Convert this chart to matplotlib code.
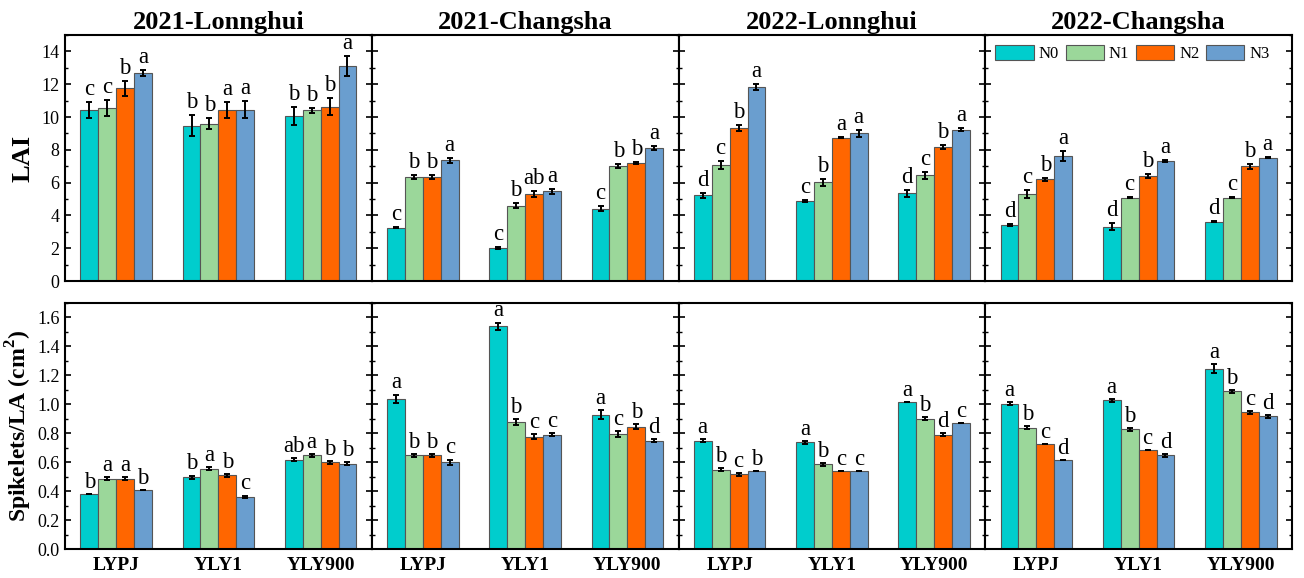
import numpy as np
import matplotlib.pyplot as plt
from matplotlib.ticker import MultipleLocator

plt.rcParams['font.family'] = ['Liberation Serif', 'DejaVu Serif']
plt.rcParams['mathtext.fontset'] = 'custom'
plt.rcParams['mathtext.rm'] = 'Liberation Serif:bold'
plt.rcParams['mathtext.bf'] = 'Liberation Serif:bold'

# data: rows = cultivars, columns = N0..N3
sites = ['2021-Lonnghui', '2021-Changsha', '2022-Lonnghui', '2022-Changsha']
cultivars = ['LYPJ', 'YLY1', 'YLY900']
treatments = ['N0', 'N1', 'N2', 'N3']
colors = ['#00CDCD', '#9BD79A', '#FF6600', '#6A9ECF']

lai_21_lh = [[10.43, 10.56, 11.76, 12.68], [9.48, 9.60, 10.43, 10.45], [10.05, 10.41, 10.64, 13.12]]
lai_21_cs = [[3.26, 6.34, 6.34, 7.36], [2.00, 4.60, 5.30, 5.46], [4.42, 7.01, 7.21, 8.13]]
lai_22_lh = [[5.22, 7.07, 9.33, 11.84], [4.89, 6.01, 8.74, 9.00], [5.34, 6.44, 8.19, 9.23]]
lai_22_cs = [[3.42, 5.30, 6.20, 7.60], [3.32, 5.09, 6.40, 7.32], [3.61, 5.09, 6.99, 7.52]]

lai_err_21_lh = [[0.50, 0.48, 0.45, 0.18], [0.64, 0.33, 0.50, 0.53], [0.54, 0.16, 0.53, 0.60]]
lai_err_21_cs = [[0.05, 0.10, 0.12, 0.15], [0.07, 0.17, 0.20, 0.14], [0.15, 0.10, 0.05, 0.12]]
lai_err_22_lh = [[0.17, 0.27, 0.20, 0.20], [0.05, 0.20, 0.04, 0.23], [0.20, 0.20, 0.12, 0.08]]
lai_err_22_cs = [[0.05, 0.25, 0.10, 0.30], [0.20, 0.05, 0.10, 0.08], [0.03, 0.02, 0.15, 0.03]]

lai_let_21_lh = [['c', 'c', 'b', 'a'], ['b', 'b', 'a', 'a'], ['b', 'b', 'b', 'a']]
lai_let_21_cs = [['c', 'b', 'b', 'a'], ['c', 'b', 'ab', 'a'], ['c', 'b', 'b', 'a']]
lai_let_22_lh = [['d', 'c', 'b', 'a'], ['c', 'b', 'a', 'a'], ['d', 'c', 'b', 'a']]
lai_let_22_cs = [['d', 'c', 'b', 'a'], ['d', 'c', 'b', 'a'], ['d', 'c', 'b', 'a']]

spk_21_lh = [[0.380, 0.485, 0.485, 0.407], [0.497, 0.556, 0.510, 0.359], [0.616, 0.648, 0.598, 0.589]]
spk_21_cs = [[1.037, 0.648, 0.648, 0.598], [1.540, 0.876, 0.777, 0.789], [0.929, 0.795, 0.846, 0.747]]
spk_22_lh = [[0.747, 0.547, 0.517, 0.536], [0.738, 0.586, 0.536, 0.536], [1.018, 0.899, 0.789, 0.869]]
spk_22_cs = [[1.005, 0.839, 0.726, 0.614], [1.028, 0.828, 0.685, 0.648], [1.246, 1.090, 0.945, 0.917]]

spk_err_21_lh = [[0.0, 0.01, 0.01, 0.0], [0.01, 0.01, 0.01, 0.01], [0.01, 0.01, 0.01, 0.01]]
spk_err_21_cs = [[0.03, 0.01, 0.01, 0.02], [0.025, 0.02, 0.02, 0.01], [0.03, 0.02, 0.02, 0.01]]
spk_err_22_lh = [[0.01, 0.01, 0.01, 0.0], [0.01, 0.01, 0.0, 0.0], [0.0, 0.01, 0.01, 0.0]]
spk_err_22_cs = [[0.01, 0.01, 0.0, 0.0], [0.01, 0.01, 0.0, 0.01], [0.03, 0.01, 0.01, 0.01]]

spk_let_21_lh = [['b', 'a', 'a', 'b'], ['b', 'a', 'b', 'c'], ['ab', 'a', 'b', 'b']]
spk_let_21_cs = [['a', 'b', 'b', 'c'], ['a', 'b', 'c', 'c'], ['a', 'c', 'b', 'd']]
spk_let_22_lh = [['a', 'b', 'c', 'b'], ['a', 'b', 'c', 'c'], ['a', 'b', 'd', 'c']]
spk_let_22_cs = [['a', 'b', 'c', 'd'], ['a', 'b', 'c', 'd'], ['a', 'b', 'c', 'd']]

rows = [
    ([lai_21_lh, lai_21_cs, lai_22_lh, lai_22_cs],
     [lai_err_21_lh, lai_err_21_cs, lai_err_22_lh, lai_err_22_cs],
     [lai_let_21_lh, lai_let_21_cs, lai_let_22_lh, lai_let_22_cs]),
    ([spk_21_lh, spk_21_cs, spk_22_lh, spk_22_cs],
     [spk_err_21_lh, spk_err_21_cs, spk_err_22_lh, spk_err_22_cs],
     [spk_let_21_lh, spk_let_21_cs, spk_let_22_lh, spk_let_22_cs]),
]

fig = plt.figure(figsize=(13.04, 5.78), dpi=100)
W, H = 1304, 578
x0, x1 = 65, 1292
pw = (x1 - x0) / 4
row_box = [(35, 281), (303, 549)]
ylims = [(0, 15), (0, 1.7)]
majors = [2, 0.2]
minors = [1, 0.1]
offs = [0.12, 0.008]
ylabels = ['LAI', r'Spikelets/LA (cm$^{\mathbf{2}}$)']
ylab_size = [19, 17]
ylab_x = [-0.098, -0.102]

bw = 0.175
x = np.arange(1, 4)

for r, (vals, errs, lets) in enumerate(rows):
    top, bot = row_box[r]
    for c in range(4):
        ax = fig.add_axes([(x0 + c * pw) / W, 1 - bot / H, pw / W, (bot - top) / H])
        v = np.array(vals[c])
        e = np.array(errs[c])
        for k in range(4):
            xs = x + (k - 1.5) * bw
            ax.bar(xs, v[:, k], width=bw, color=colors[k], edgecolor='#555555',
                   linewidth=0.8, label=treatments[k], zorder=2)
            ax.errorbar(xs, v[:, k], yerr=e[:, k], fmt='none', ecolor='black',
                        elinewidth=1.4, capsize=2.5, capthick=1.4, zorder=3)
            for i in range(3):
                ax.text(xs[i], v[i, k] + e[i, k] + offs[r], lets[c][i][k],
                        ha='center', va='bottom', fontsize=16.5)
        ax.set_xlim(0.5, 3.5)
        ax.set_ylim(*ylims[r])
        ax.yaxis.set_major_locator(MultipleLocator(majors[r]))
        ax.yaxis.set_minor_locator(MultipleLocator(minors[r]))
        ax.tick_params(axis='y', which='both', direction='in', left=True, right=True,
                       labelsize=13)
        ax.tick_params(axis='y', which='major', length=4, width=1.2, pad=4)
        ax.tick_params(axis='y', which='minor', length=2.5, width=1.0)
        for s in ax.spines.values():
            s.set_linewidth(1.5)
        if c > 0:
            ax.tick_params(axis='y', labelleft=False)
        else:
            ax.set_ylabel(ylabels[r], fontsize=ylab_size[r], fontweight='bold')
            ax.yaxis.set_label_coords(ylab_x[r], 0.5)
        if r == 0:
            ax.set_xticks([])
            ax.set_title(sites[c], fontsize=19, fontweight='bold', pad=4)
            if c == 3:
                ax.legend(loc='upper center', ncol=4, frameon=False, fontsize=12,
                          handlelength=2.3, handleheight=1.05, columnspacing=0.4,
                          handletextpad=0.3, borderaxespad=0.2,
                          bbox_to_anchor=(0.48, 1.0))
        else:
            ax.set_xticks(x)
            ax.set_xticklabels(cultivars, fontweight='bold', fontsize=14)
            ax.tick_params(axis='x', length=0, pad=6)

fig.savefig('out.png', dpi=100)
